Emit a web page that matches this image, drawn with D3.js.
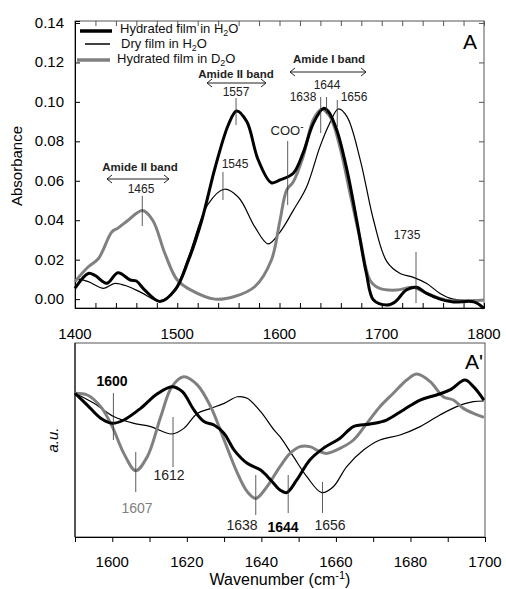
<!DOCTYPE html>
<meta charset="utf-8">
<style>
body { margin: 0; background: #fff; }
text { font-family: "Liberation Sans", Arial, sans-serif; }
</style>
<body>
<script src="https://d3js.org/d3.v7.min.js"></script>
<script>

// ---- data: top panel (absorbance) ----
var hydH2O_x = [1400,1413,1419.5,1431,1442,1454,1460,1468,1483,1498,1511,1524,1537,1550,1558,1568,1579,1592,1600.5,1613.5,1623,1633,1643,1648,1656,1666,1675.5,1685,1692,1705,1713,1724,1734,1744,1757,1770,1790,1800];
var hydH2O_y = [0.0055,0.013,0.012,0.008,0.0134,0.0097,0.0092,0.0047,-0.0012,0.0047,0.0197,0.040,0.0666,0.0884,0.0954,0.090,0.0708,0.059,0.0604,0.0638,0.074,0.089,0.0967,0.095,0.0857,0.0654,0.040,0.013,-0.0005,-0.003,-0.0014,0.0046,0.006,0.0029,0.0,-0.0014,-0.0014,-0.0047];

var dryH2O_x = [1400,1413,1428,1439,1452,1465,1483,1498,1511,1530,1546,1560,1576,1589,1600.5,1613.5,1626.6,1639.6,1649,1657.5,1666,1679,1692,1705,1718,1731,1744,1757,1770,1800];
var dryH2O_y = [0.0105,0.0089,0.0055,0.008,0.0064,0.0033,-0.001,0.0055,0.0214,0.048,0.0557,0.0515,0.0365,0.028,0.034,0.045,0.057,0.0773,0.089,0.0964,0.0925,0.0705,0.040,0.019,0.013,0.011,0.0079,0.0029,0.0,-0.0005];

var hydD2O_x = [1400,1413,1423,1436,1442,1452,1466,1476,1488,1500,1513,1537,1556,1576,1592,1600.5,1607,1613.5,1623,1633,1641,1649.4,1659,1669,1679,1688.5,1698,1714.6,1731,1744,1763,1800];
var hydD2O_y = [0.0089,0.0164,0.0206,0.034,0.036,0.040,0.0449,0.040,0.023,0.0097,0.0047,0.0,0.0013,0.0064,0.0197,0.040,0.0553,0.0595,0.072,0.091,0.0962,0.0925,0.0773,0.0536,0.030,0.0096,0.0054,0.0046,0.006,0.0029,-0.0005,-0.0005];

// ---- data: bottom panel (second derivative, a.u.) ----
var d2HydH2O_x = [1590,1593.3,1596.9,1600,1603.1,1607.6,1612,1616,1618.8,1621.9,1624.6,1627.3,1630,1632.7,1636.2,1639.8,1642.5,1645,1646.8,1649.5,1653,1656.6,1661.1,1664.7,1669.2,1673.6,1678.1,1682.6,1687,1690.6,1694.6,1696.9,1699.7];
var d2HydH2O_y = [74.1,68.0,61.2,58.6,60.3,66.3,73.7,77.5,74.9,65.5,59.5,57.7,53.4,44.8,38.0,34.5,29.4,24.2,22.9,29.4,39.7,45.7,50.9,56.9,58.2,60.3,65.5,70.6,73.2,75.8,80.9,77.5,70.6];

var d2DryH2O_x = [1590,1595.1,1600.5,1605.8,1610.3,1616,1619.2,1622.8,1626.4,1630,1633.6,1636.2,1639.8,1643.4,1645,1648.6,1652.2,1656.2,1659.3,1662.9,1667.4,1671.8,1677.2,1682.6,1687.9,1693.3,1696.9,1699.7];
var d2DryH2O_y = [74.1,68.9,62.0,58.6,56.9,53.1,56.0,63.7,66.3,68.9,72.3,71.5,64.6,55.2,51.7,41.4,31.1,22.9,25.9,36.3,44.8,50.0,52.6,56.9,62.9,68.0,69.8,70.1];

var d2HydD2O_x = [1590,1593.3,1596.9,1600,1603.1,1606.3,1609.4,1613,1616,1619.2,1622.8,1626.4,1630,1633.6,1636.2,1638.5,1641.2,1645,1647.7,1650.4,1653,1655.7,1657.5,1661.1,1664.7,1668.3,1671.8,1675.4,1679,1681.7,1685.3,1688.8,1691.5,1694.2,1696.9,1699.7];
var d2HydD2O_y = [74.1,73.2,67.2,56.9,43.1,34.2,41.4,62.0,77.5,82.6,78.4,67.2,50.0,32.8,23.4,19.9,25.1,36.3,43.1,46.6,46.6,44.0,43.1,45.7,50.0,58.6,67.2,74.1,80.9,84.0,80.1,72.3,70.6,66.3,63.7,61.7];

var topXTicks = [1400, 1500, 1600, 1700, 1800];
var topYTicks = [0.00, 0.02, 0.04, 0.06, 0.08, 0.10, 0.12, 0.14];
var botXTicks = [1600, 1620, 1640, 1660, 1680, 1700];

var legendNames = ["Hydrated film in H", "Dry film in H", "Hydrated film in D"];
var legendTail = ["O", "O", "O"];

// marker positions of the labelled peaks
var topPeaks = [1465.8, 1544.7, 1557.5, 1608, 1640.3, 1646, 1656.5, 1733.5];
var botPeaks = [1600.3, 1606.3, 1616.3, 1638.5, 1647.2, 1656.4];

var W = 506, H = 589;
var svg = d3.select("body").append("svg").attr("width", W).attr("height", H);

var grey = "#808080";
var fmt = d3.format(".2f");

function zip(a, b) { return a.map(function(v, i){ return [v, b[i]]; }); }

// ================= TOP PANEL =================
var x1 = d3.scaleLinear().domain([1400, 1800]).range([75, 484]);
var y1 = d3.scaleLinear().domain([-0.0045, 0.141]).range([308, 21]);

svg.append("rect").attr("x", 75).attr("y", 21).attr("width", 409).attr("height", 287)
  .attr("fill", "none").attr("stroke", "#555").attr("stroke-width", 1);

var line1 = d3.line().x(function(d){ return x1(d[0]); }).y(function(d){ return y1(d[1]); }).curve(d3.curveCatmullRom);

// minor ticks every 20 on bottom and top, both inward
var minor1 = d3.range(1400, 1801, 20);
svg.append("g").attr("transform", "translate(0,308)")
  .call(d3.axisBottom(x1).tickValues(minor1).tickSize(-5).tickFormat(""))
  .call(function(g){ g.select(".domain").attr("stroke", "#000"); });
svg.append("g").attr("transform", "translate(0,21)")
  .call(d3.axisTop(x1).tickValues(minor1).tickSize(-5).tickFormat(""))
  .call(function(g){ g.select(".domain").remove(); g.selectAll("line").attr("stroke", "#555"); });
svg.append("g").selectAll("text").data(topXTicks).enter().append("text")
  .attr("x", function(d){ return x1(d); }).attr("y", 339)
  .attr("text-anchor", "middle").attr("font-size", 15).text(function(d){ return d; });

svg.append("g").attr("transform", "translate(75,0)")
  .call(d3.axisLeft(y1).tickValues(topYTicks).tickSize(-5).tickFormat(""))
  .call(function(g){ g.select(".domain").attr("stroke", "#000"); });
svg.append("g").selectAll("text").data(topYTicks).enter().append("text")
  .attr("x", 64).attr("y", function(d){ return y1(d) + 5; })
  .attr("text-anchor", "end").attr("font-size", 15).text(function(d){ return fmt(d); });
svg.append("g").attr("transform", "translate(484,0)")
  .call(d3.axisRight(y1).tickValues(topYTicks).tickSize(-5).tickFormat(""))
  .call(function(g){ g.select(".domain").remove(); g.selectAll("line").attr("stroke", "#555"); });

svg.append("text").attr("transform", "translate(22,166) rotate(-90)")
  .attr("text-anchor", "middle").attr("font-size", 15).text("Absorbance");

svg.append("path").attr("d", line1(zip(dryH2O_x, dryH2O_y)))
  .attr("fill", "none").attr("stroke", "#000").attr("stroke-width", 1.2);
svg.append("path").attr("d", line1(zip(hydD2O_x, hydD2O_y)))
  .attr("fill", "none").attr("stroke", grey).attr("stroke-width", 3);
svg.append("path").attr("d", line1(zip(hydH2O_x, hydH2O_y)))
  .attr("fill", "none").attr("stroke", "#000").attr("stroke-width", 3);

// legend
var leg = [
  {x0: 80, x1: 112, y: 31, c: "#000", w: 3.5, tx: 120, ty: 33},
  {x0: 85, x1: 110, y: 44, c: "#000", w: 1.5, tx: 121, ty: 48},
  {x0: 77, x1: 110, y: 60, c: grey, w: 3.5, tx: 117, ty: 63}
];
leg.forEach(function(l, i){
  svg.append("line").attr("x1", l.x0).attr("x2", l.x1).attr("y1", l.y).attr("y2", l.y)
    .attr("stroke", l.c).attr("stroke-width", l.w);
  var t = svg.append("text").attr("x", l.tx).attr("y", l.ty).attr("font-size", 13).attr("fill", "#111");
  t.append("tspan").text(legendNames[i]);
  t.append("tspan").attr("font-size", 9).attr("dy", 2.5).text("2");
  t.append("tspan").attr("dy", -2.5).text(legendTail[i]);
});

svg.append("text").attr("x", 470).attr("y", 49).attr("text-anchor", "middle")
  .attr("font-size", 21).text("A");

function vline(x, ya, yb) {
  svg.append("line").attr("x1", x).attr("x2", x).attr("y1", ya).attr("y2", yb)
    .attr("stroke", "#333").attr("stroke-width", 0.8);
}
function label(x, y, s, opts) {
  opts = opts || {};
  return svg.append("text").attr("x", x).attr("y", y).attr("text-anchor", opts.anchor || "middle")
    .attr("font-size", opts.size || 12).attr("font-weight", opts.bold ? "bold" : null)
    .attr("fill", opts.fill || "#222").text(s);
}
function arrow(xa, xb, y) {
  svg.append("line").attr("x1", xa).attr("x2", xb).attr("y1", y).attr("y2", y)
    .attr("stroke", "#222").attr("stroke-width", 1);
  svg.append("path").attr("d", "M" + (xa + 5) + "," + (y - 4) + "L" + xa + "," + y + "L" + (xa + 5) + "," + (y + 4))
    .attr("fill", "none").attr("stroke", "#222").attr("stroke-width", 1);
  svg.append("path").attr("d", "M" + (xb - 5) + "," + (y - 4) + "L" + xb + "," + y + "L" + (xb - 5) + "," + (y + 4))
    .attr("fill", "none").attr("stroke", "#222").attr("stroke-width", 1);
}

label(140, 171, "Amide II band", {bold: true, size: 11.5});
arrow(107, 169, 179);
label(141, 193, "1465");
vline(x1(topPeaks[0]), 196, 226);
label(235, 168, "1545");
vline(x1(topPeaks[1]), 172, 200);
label(236, 78, "Amide II band", {bold: true, size: 11.5});
arrow(207, 266, 83);
label(236, 96, "1557");
vline(x1(topPeaks[2]), 98, 125);
var coo = label(287, 135, "COO", {size: 13});
coo.append("tspan").attr("dy", -5).attr("font-size", 10).text("-");
vline(x1(topPeaks[3]), 141, 205);
label(329, 63, "Amide I band", {bold: true, size: 11.5});
arrow(290, 366, 72);
label(327, 89, "1644");
label(303, 101, "1638");
label(354, 101, "1656");
vline(x1(topPeaks[4]), 97, 133);
vline(x1(topPeaks[5]), 97, 114);
vline(x1(topPeaks[6]), 100, 127);
label(407, 239, "1735");
vline(x1(topPeaks[7]), 252, 303);

// ================= BOTTOM PANEL =================
var x2 = d3.scaleLinear().domain([1590, 1700]).range([75, 485]);
var y2 = d3.scaleLinear().domain([0, 100]).range([537, 343]);

svg.append("rect").attr("x", 75).attr("y", 343).attr("width", 410).attr("height", 194)
  .attr("fill", "none").attr("stroke", "#555").attr("stroke-width", 1);
svg.append("line").attr("x1", 75).attr("x2", 75).attr("y1", 343).attr("y2", 537).attr("stroke", "#000");

svg.append("g").attr("transform", "translate(0,537)")
  .call(d3.axisBottom(x2).tickValues(d3.range(1590, 1701, 10)).tickSize(5).tickFormat(""))
  .call(function(g){ g.select(".domain").attr("stroke", "#000"); });
svg.append("g").selectAll("text").data(botXTicks).enter().append("text")
  .attr("x", function(d){ return x2(d); }).attr("y", 567)
  .attr("text-anchor", "middle").attr("font-size", 15).text(function(d){ return d; });

var xt = svg.append("text").attr("x", 280).attr("y", 585).attr("text-anchor", "middle").attr("font-size", 16).text("Wavenumber (cm");
xt.append("tspan").attr("dy", -6).attr("font-size", 11).text("-1");
xt.append("tspan").attr("dy", 6).text(")");

svg.append("text").attr("transform", "translate(58,440) rotate(-90)")
  .attr("text-anchor", "middle").attr("font-size", 15).attr("font-style", "italic").text("a.u.");

var line2 = d3.line().x(function(d){ return x2(d[0]); }).y(function(d){ return y2(d[1]); }).curve(d3.curveCatmullRom);

svg.append("path").attr("d", line2(zip(d2DryH2O_x, d2DryH2O_y)))
  .attr("fill", "none").attr("stroke", "#000").attr("stroke-width", 1.2);
svg.append("path").attr("d", line2(zip(d2HydD2O_x, d2HydD2O_y)))
  .attr("fill", "none").attr("stroke", grey).attr("stroke-width", 3);
svg.append("path").attr("d", line2(zip(d2HydH2O_x, d2HydH2O_y)))
  .attr("fill", "none").attr("stroke", "#000").attr("stroke-width", 3);

svg.append("text").attr("x", 474).attr("y", 369).attr("text-anchor", "middle")
  .attr("font-size", 21).text("A'");

label(112, 386, "1600", {bold: true, size: 14, fill: "#000"});
vline(x2(botPeaks[0]), 393, 440);
label(137, 513, "1607", {size: 14, fill: grey});
vline(x2(botPeaks[1]), 452, 492);
label(169, 480, "1612", {size: 14});
vline(x2(botPeaks[2]), 417, 467);
label(242, 530, "1638", {size: 14});
vline(x2(botPeaks[3]), 475, 515);
label(283, 532, "1644", {bold: true, size: 14, fill: "#000"});
vline(x2(botPeaks[4]), 475, 513);
label(330, 530, "1656", {size: 14});
vline(x2(botPeaks[5]), 482, 513);

</script>
</body>
